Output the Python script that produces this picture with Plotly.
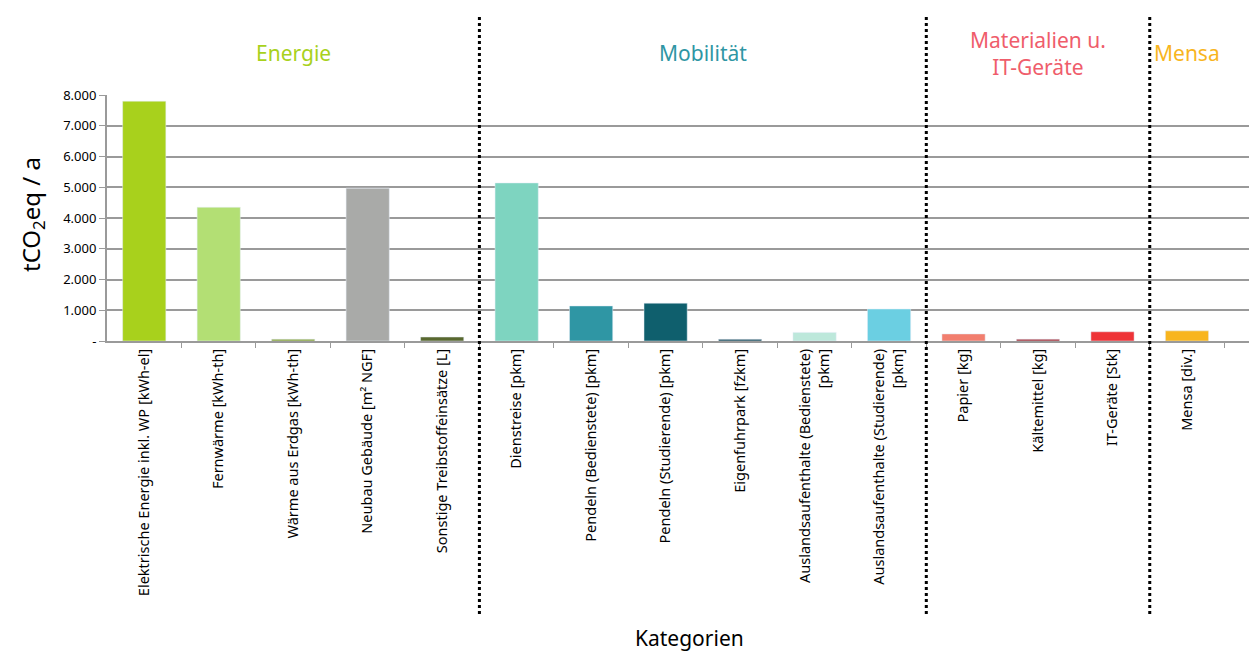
import plotly.graph_objects as go

categories = [
    "Elektrische Energie inkl. WP [kWh-el]",
    "Fernwärme [kWh-th]",
    "Wärme aus Erdgas [kWh-th]",
    "Neubau Gebäude [m² NGF]",
    "Sonstige Treibstoffeinsätze [L]",
    "Dienstreise [pkm]",
    "Pendeln (Bedienstete) [pkm]",
    "Pendeln (Studierende) [pkm]",
    "Eigenfuhrpark [fzkm]",
    "Auslandsaufenthalte (Bedienstete)<br>[pkm]",
    "Auslandsaufenthalte (Studierende)<br>[pkm]",
    "Papier [kg]",
    "Kältemittel [kg]",
    "IT-Geräte [Stk]",
    "Mensa [div.]",
]
values = [7800, 4350, 60, 4970, 130, 5140, 1140, 1230, 55, 280, 1040, 230, 60, 300, 330]
bar_colors = [
    "#A8D11C", "#B3DF74", "#86A23A", "#A9AAA8", "#59682F",
    "#7ED4C0", "#2F96A4", "#0F5F6D", "#1E4F5E", "#BDE8DB", "#6BCFE2",
    "#F27E6E", "#A2323A", "#EE3337", "#F8B51E",
]

groups = ["Energie", "Mobilität", "Materialien u.<br>IT-Geräte", "Mensa"]
group_sizes = [5, 6, 3, 1]
group_colors = ["#A8D11C", "#2F96A4", "#EF5D6B", "#F8B51E"]

y_ticks = [0, 1000, 2000, 3000, 4000, 5000, 6000, 7000, 8000]
y_ticktext = ["-", "1.000", "2.000", "3.000", "4.000", "5.000", "6.000", "7.000", "8.000"]

font = "Noto Sans"
xs = list(range(len(categories)))

# the page body adds an 8px offset, so the figure is laid out 8px smaller
off = 8
W, H = 1257 - off, 653 - off
left, top, bottom = 107 - off, 95 - off, 341 - off
plot_w, plot_h = W - left, bottom - top

fig = go.Figure(go.Bar(x=xs, y=values, marker_color=bar_colors, width=0.58))

# group separators and headers
start = 0
for i, (g, n, c) in enumerate(zip(groups, group_sizes, group_colors)):
    center = start + (n - 1) / 2
    fig.add_annotation(x=center, xref="x", y=1 + (95 - 53) / plot_h, yref="paper",
                       yanchor="middle", text=g, showarrow=False,
                       font=dict(family=font, size=21, color=c))
    start += n
    if i < len(groups) - 1:
        fig.add_shape(type="line", x0=start - 0.5, x1=start - 0.5, xref="x",
                      y0=1 + (95 - 17) / plot_h, y1=-(615 - 341) / plot_h, yref="paper",
                      line=dict(color="black", width=3, dash="dot"))

# axis titles
fig.add_annotation(x=(689 - 107) / plot_w, xref="paper", y=-(638 - 341) / plot_h, yref="paper",
                   text="Kategorien", showarrow=False, yanchor="middle",
                   font=dict(family=font, size=21, color="black"))
fig.add_annotation(x=-(107 - 32) / plot_w, xref="paper", y=(341 - 215) / plot_h, yref="paper",
                   text="tCO<sub>2</sub>eq / a", showarrow=False, textangle=-90,
                   xanchor="center", yanchor="middle",
                   font=dict(family=font, size=24, color="black"))

fig.update_layout(
    width=W, height=H,
    margin=dict(l=left, r=0, t=top, b=H - bottom),
    plot_bgcolor="white", paper_bgcolor="white",
    showlegend=False,
    font=dict(family=font, size=12, color="black"),
    xaxis=dict(
        range=[-0.5, 14.94], automargin=False,
        tickvals=xs, ticktext=categories, tickangle=-90,
        ticks="", showgrid=False,
        showline=True, linecolor="#9a9a9a", linewidth=2,
        tickfont=dict(size=14.5),
        minor=dict(tickvals=[x + 0.5 for x in xs], ticks="outside", ticklen=5,
                   tickcolor="#9a9a9a", showgrid=False),
    ),
    yaxis=dict(
        range=[0, 8000], automargin=False,
        tickvals=y_ticks, ticktext=y_ticktext,
        ticks="outside", ticklen=6, tickcolor="#9a9a9a",
        showgrid=True, gridcolor="#9a9a9a", gridwidth=1.5,
        showline=True, linecolor="#9a9a9a", linewidth=2,
        zeroline=False,
        tickfont=dict(size=13),
    ),
)

fig.write_html("out.html")
